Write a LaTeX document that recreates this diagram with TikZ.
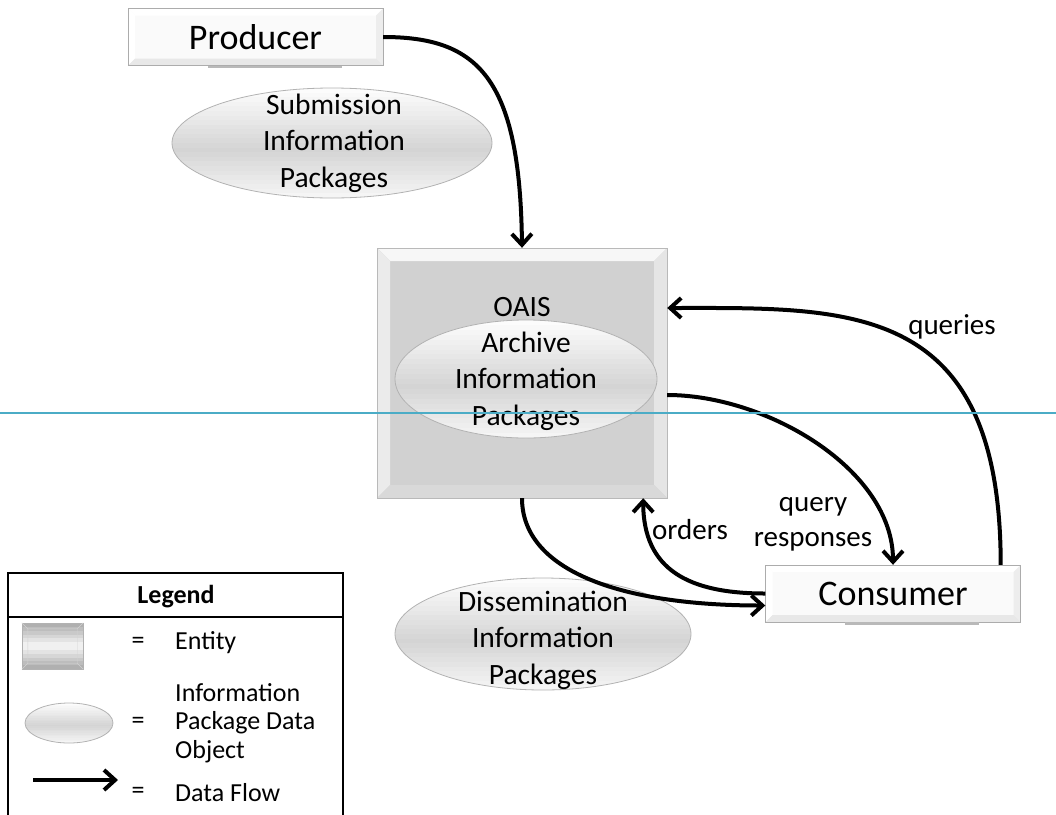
\documentclass[tikz,border=0pt]{standalone}
\usepackage{fontspec}
\setmainfont{Carlito}
\usetikzlibrary{arrows.meta,calc}

\definecolor{guide}{RGB}{75,172,198}

\tikzset{
  bevel/.style n args={5}{%
    path picture={
      \path (path picture bounding box.north west) coordinate (bnw)
            (path picture bounding box.north east) coordinate (bne)
            (path picture bounding box.south west) coordinate (bsw)
            (path picture bounding box.south east) coordinate (bse)
            ([xshift=#1,yshift=-#1]bnw) coordinate (inw)
            ([xshift=-#1,yshift=-#1]bne) coordinate (ine)
            ([xshift=#1,yshift=#1]bsw) coordinate (isw)
            ([xshift=-#1,yshift=#1]bse) coordinate (ise);
      \fill[#2] (bnw) -- (bne) -- (ine) -- (inw) -- cycle;
      \fill[#3] (bnw) -- (bsw) -- (isw) -- (inw) -- cycle;
      \fill[#4] (bne) -- (bse) -- (ise) -- (ine) -- cycle;
      \fill[#5] (bsw) -- (bse) -- (ise) -- (isw) -- cycle;
    }},
}

% glossy ellipse: centre x, centre y, x radius, y radius
\newcommand\pkgshape[4]{%
  \begin{scope}
    \clip (#1,#2) ellipse [x radius=#3, y radius=#4];
    \foreach \k in {0,...,23}{
      \pgfmathsetmacro\tint{\k<13 ? 2+32*\k/13 : 34-26*(\k-13)/10}
      \fill[gray!\tint] (#1-#3, #2+#4-\k*#4/12) rectangle (#1+#3, #2+#4-\k*#4/12-#4/12-0.6);
    }
  \end{scope}
  \draw[gray!60, line width=0.8pt] (#1,#2) ellipse [x radius=#3, y radius=#4];
}

\begin{document}
\begin{tikzpicture}[x=1pt, y=1pt,
  entity/.style={draw=gray!65, fill=gray!4, minimum width=255pt, minimum height=57pt,
    inner sep=0pt, font=\fontsize{36}{43}\selectfont,
    bevel={7pt}{white}{white}{gray!14}{gray!18}},
  archive/.style={draw=gray!55, fill=gray!36, minimum width=290pt, minimum height=250pt,
    bevel={13pt}{gray!6}{gray!16}{gray!20}{gray!30}},
  keyent/.style={draw=gray!60, minimum width=61pt, minimum height=46pt, inner sep=0pt},
  pkgtext/.style={align=center, inner sep=0pt, font=\fontsize{29.5}{36.5}\selectfont},
  flow/.style={line width=4pt, -{Straight Barb[length=11pt,width=20pt]}},
  flowlabel/.style={align=center, inner sep=0pt, font=\fontsize{29}{35}\selectfont},
  keytext/.style={inner sep=0pt, align=left, font=\fontsize{26}{28.5}\selectfont},
]

  \useasboundingbox (0,0) rectangle (1056,-814);

  % entities
  \node[entity] (prod) at (255.5,-37) {Producer};
  \node[entity] (cons) at (893,-593.5) {Consumer};
  \foreach \n in {prod,cons}
    \fill[gray!55] ($(\n.south)+(-48,0)$) rectangle ($(\n.south)+(86,-2.5)$);

  \node[archive] (oais) at (522,-373) {};
  \node[pkgtext] (oaislbl) at (522,-307) {OAIS};

  % information packages
  \pkgshape{332}{-143}{160}{55}
  \node[pkgtext] (sip) at (334,-143) {Submission\\Information\\Packages};

  \pkgshape{526}{-379}{131}{59}
  \node[pkgtext] (aip) at (526,-381) {Archive\\Information\\Packages};

  \pkgshape{543}{-634}{148}{56}
  \node[pkgtext] (dip) at (543,-640) {Dissemination\\Information\\Packages};

  % data flows
  \coordinate (qin)  at ($(oais.east)+(0,65)$);
  \coordinate (qout) at ($(cons.north east)+(-20,0)$);
  \coordinate (rout) at ($(oais.east)+(0,-22)$);
  \coordinate (oin)  at ($(oais.south east)+(-24,0)$);
  \coordinate (din)  at ($(cons.west)+(0,-12)$);

  \draw[flow] (prod.east) .. controls +(95,0) and +(-2,170) .. (oais.north);
  \draw[flow] (qout) .. controls +(0,265) and +(182,0) .. (qin);
  \draw[flow] (rout) .. controls +(100,0) and +(0,95) .. (cons.north);
  \draw[flow] (cons.west) .. controls +(-76,0) and +(0,-72) .. (oin);
  \draw[flow] (oais.south) .. controls +(0,-72) and +(-146,0) .. (din);

  \node[flowlabel] (qlbl) at (952,-327) {queries};
  \node[flowlabel] (rlbl) at (813,-524.5) {query\\responses};
  \node[flowlabel] (olbl) at (690,-530) {orders};

  % legend
  \draw[line width=2pt] (8,-820) -- (8,-573) -- (343,-573) -- (343,-820);
  \draw[line width=2pt] (8,-617) -- (343,-617);
  \node[keytext, font=\fontsize{26}{28.5}\selectfont\bfseries] (keyhead) at (176,-597) {Legend};

  \foreach \k in {0,...,11}{
    \pgfmathsetmacro\tint{\k<6 ? 62-50*\k/5 : 12+50*(\k-6)/5}
    \fill[gray!\tint] (22,-623-\k*46/12) rectangle (83,-623-\k*46/12-46/12-0.5);
  }
  \node[keyent] (keyent) at (52.5,-646) {};
  \draw[gray!35] (keyent.north west) -- ++(6,-6) -- ($(keyent.south west)+(6,6)$) -- (keyent.south west)
                 (keyent.north east) -- ++(-6,-6) -- ($(keyent.south east)+(-6,6)$) -- (keyent.south east)
                 ($(keyent.north west)+(6,-6)$) -- ($(keyent.north east)+(-6,-6)$)
                 ($(keyent.south west)+(6,6)$) -- ($(keyent.south east)+(-6,6)$);
  \pkgshape{69}{-723}{44}{20}
  \coordinate (karrs) at (33,-780);
  \coordinate (karre) at (118,-780);
  \draw[flow] (karrs) -- (karre);

  \foreach \y in {643,723,793}
    \node[keytext] (eq\y) at (138,-\y) {=};
  \node[keytext, anchor=west] (kent)  at (175,-643) {Entity};
  \node[keytext, anchor=west] (kpkg)  at (175,-723) {Information\\Package Data\\Object};
  \node[keytext, anchor=west] (kflow) at (175,-793) {Data Flow};

  \draw[guide, line width=2pt] (0,-413) -- (1056,-413);
\end{tikzpicture}
\end{document}
